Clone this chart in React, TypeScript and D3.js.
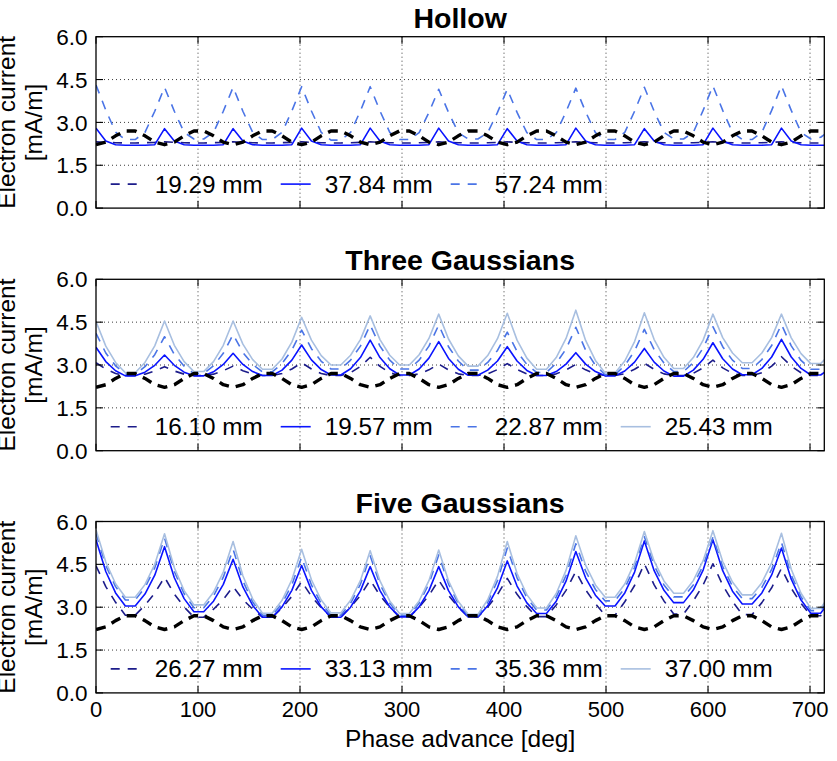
import React, { useEffect } from 'react';
import * as d3 from 'd3';

// ---------------- DATA ----------------
const PHASE: number[] = d3.range(76).map((i) => Math.round(i * 96) / 10); // deg, sample grid
const X_TICKS = [0, 100, 200, 300, 400, 500, 600, 700];
const Y_TICKS = [0, 1.5, 3.0, 4.5, 6.0];
const TITLES = ['Hollow', 'Three Gaussians', 'Five Gaussians'];

// reference (black dashed) curve, same in every panel
const REFERENCE = [
  2.22,2.31,2.53,2.70,2.70,2.53,2.31, 2.22,2.31,2.53,2.70,2.70,2.53,2.31,
  2.22,2.31,2.53,2.70,2.70,2.53,2.31, 2.22,2.31,2.53,2.70,2.70,2.53,2.31,
  2.22,2.31,2.53,2.70,2.70,2.53,2.31, 2.22,2.31,2.53,2.70,2.70,2.53,2.31,
  2.22,2.31,2.53,2.70,2.70,2.53,2.31, 2.22,2.31,2.53,2.70,2.70,2.53,2.31,
  2.22,2.31,2.53,2.70,2.70,2.53,2.31, 2.22,2.31,2.53,2.70,2.70,2.53,2.31,
  2.22,2.31,2.53,2.70,2.70,2.53,
];

// Hollow
const HOLLOW_LABELS = ['19.29 mm', '37.84 mm', '57.24 mm'];
const HOLLOW_1929 = [
  2.32,2.30,2.29,2.28,2.28,2.29,2.30, 2.32,2.30,2.29,2.28,2.28,2.29,2.30,
  2.32,2.30,2.29,2.28,2.28,2.29,2.30, 2.32,2.30,2.29,2.28,2.28,2.29,2.30,
  2.32,2.30,2.29,2.28,2.28,2.29,2.30, 2.32,2.30,2.29,2.28,2.28,2.29,2.30,
  2.32,2.30,2.29,2.28,2.28,2.29,2.30, 2.32,2.30,2.29,2.28,2.28,2.29,2.30,
  2.32,2.30,2.29,2.28,2.28,2.29,2.30, 2.32,2.30,2.29,2.28,2.28,2.29,2.30,
  2.32,2.30,2.29,2.28,2.28,2.29,
];
const HOLLOW_3784 = [
  2.80,2.35,2.22,2.20,2.20,2.20,2.22, 2.78,2.35,2.22,2.20,2.20,2.20,2.22,
  2.78,2.35,2.22,2.20,2.20,2.20,2.22, 2.80,2.35,2.22,2.20,2.20,2.20,2.22,
  2.80,2.35,2.22,2.20,2.20,2.20,2.22, 2.80,2.35,2.22,2.20,2.20,2.20,2.22,
  2.78,2.35,2.22,2.20,2.20,2.20,2.22, 2.80,2.35,2.22,2.20,2.20,2.20,2.22,
  2.78,2.35,2.22,2.20,2.20,2.20,2.22, 2.80,2.35,2.22,2.20,2.20,2.20,2.22,
  2.80,2.35,2.22,2.20,2.20,2.20,
];
const HOLLOW_5724 = [
  4.31,3.43,2.66,2.40,2.40,2.65,3.39, 4.23,3.39,2.65,2.42,2.42,2.65,3.39,
  4.23,3.39,2.65,2.40,2.40,2.65,3.40, 4.25,3.40,2.65,2.38,2.38,2.65,3.40,
  4.25,3.40,2.65,2.40,2.40,2.64,3.35, 4.16,3.35,2.64,2.42,2.42,2.64,3.35,
  4.16,3.35,2.64,2.40,2.40,2.64,3.37, 4.20,3.37,2.64,2.40,2.40,2.65,3.39,
  4.23,3.39,2.65,2.42,2.42,2.65,3.42, 4.28,3.42,2.65,2.40,2.40,2.65,3.42,
  4.28,3.42,2.65,2.42,2.48,2.72,
];

// Three Gaussians
const THREE_LABELS = ['16.10 mm', '19.57 mm', '22.87 mm', '25.43 mm'];
const THREE_1610 = [
  3.08,2.86,2.70,2.63,2.63,2.68,2.79, 2.94,2.79,2.68,2.63,2.63,2.68,2.80,
  2.96,2.80,2.68,2.63,2.63,2.70,2.86, 3.08,2.86,2.70,2.63,2.63,2.73,2.95,
  3.27,2.95,2.73,2.63,2.63,2.69,2.83, 3.03,2.83,2.69,2.63,2.63,2.69,2.84,
  3.05,2.84,2.69,2.63,2.63,2.69,2.83, 3.02,2.83,2.69,2.63,2.63,2.69,2.85,
  3.06,2.85,2.69,2.63,2.63,2.71,2.90, 3.17,2.90,2.71,2.63,2.63,2.73,2.96,
  3.29,2.96,2.73,2.63,2.63,2.73,
];
const THREE_1957 = [
  3.62,3.12,2.80,2.62,2.62,2.75,2.99, 3.35,2.99,2.75,2.62,2.62,2.76,3.02,
  3.41,3.02,2.77,2.63,2.63,2.82,3.17, 3.70,3.18,2.84,2.65,2.65,2.87,3.26,
  3.87,3.26,2.87,2.65,2.65,2.86,3.24, 3.82,3.23,2.85,2.64,2.64,2.82,3.14,
  3.64,3.14,2.81,2.63,2.63,2.77,3.03, 3.43,3.03,2.77,2.62,2.62,2.79,3.10,
  3.58,3.10,2.79,2.61,2.61,2.82,3.20, 3.78,3.22,2.86,2.66,2.66,2.88,3.28,
  3.90,3.28,2.88,2.65,2.65,2.88,
];
const THREE_2287 = [
  4.11,3.42,2.97,2.68,2.68,2.94,3.36, 3.99,3.37,2.96,2.70,2.70,2.97,3.41,
  4.07,3.44,3.02,2.76,2.76,3.05,3.52, 4.22,3.57,3.13,2.86,2.86,3.17,3.66,
  4.40,3.66,3.17,2.86,2.86,3.17,3.66, 4.40,3.64,3.14,2.82,2.82,3.09,3.51,
  4.15,3.47,3.02,2.74,2.74,3.06,3.56, 4.32,3.52,2.99,2.66,2.66,2.98,3.49,
  4.25,3.54,3.07,2.77,2.77,3.08,3.59, 4.34,3.64,3.17,2.88,2.88,3.19,3.68,
  4.42,3.67,3.16,2.85,2.85,3.16,
];
const THREE_2543 = [
  4.52,3.66,3.09,2.73,2.73,3.09,3.67, 4.54,3.69,3.12,2.77,2.77,3.12,3.69,
  4.54,3.73,3.19,2.85,2.85,3.21,3.80, 4.67,3.87,3.33,3.00,3.00,3.34,3.89,
  4.72,3.89,3.34,3.00,3.00,3.36,3.93, 4.78,3.91,3.32,2.96,2.96,3.33,3.92,
  4.81,3.87,3.24,2.85,2.85,3.26,3.93, 4.92,3.86,3.16,2.72,2.72,3.14,3.82,
  4.83,3.89,3.27,2.88,2.88,3.26,3.87, 4.78,3.96,3.42,3.08,3.08,3.42,3.96,
  4.78,3.95,3.40,3.05,3.05,3.40,
];

// Five Gaussians
const FIVE_LABELS = ['26.27 mm', '33.13 mm', '35.36 mm', '37.00 mm'];
const FIVE_2627 = [
  4.45,3.72,3.17,2.72,2.72,3.07,3.49, 4.05,3.46,3.01,2.65,2.65,2.93,3.27,
  3.72,3.27,2.93,2.65,2.65,2.98,3.38, 3.90,3.38,2.98,2.66,2.66,3.00,3.41,
  3.95,3.41,3.00,2.66,2.66,3.00,3.41, 3.95,3.41,3.00,2.66,2.66,3.01,3.44,
  4.01,3.45,3.02,2.67,2.67,3.08,3.59, 4.25,3.61,3.12,2.72,2.72,3.19,3.76,
  4.52,3.78,3.22,2.76,2.76,3.22,3.78, 4.52,3.77,3.20,2.74,2.74,3.16,3.68,
  4.36,3.66,3.13,2.70,2.70,3.13,
];
const FIVE_3313 = [
  5.36,4.25,3.50,3.04,3.04,3.46,4.12, 5.12,4.03,3.30,2.84,2.84,3.21,3.80,
  4.68,3.71,3.06,2.65,2.65,3.01,3.59, 4.46,3.59,3.01,2.65,2.65,3.00,3.57,
  4.42,3.58,3.01,2.66,2.66,3.01,3.58, 4.42,3.58,3.01,2.66,2.66,3.05,3.68,
  4.62,3.74,3.15,2.78,2.78,3.21,3.91, 4.95,4.03,3.42,3.04,3.04,3.50,4.23,
  5.32,4.28,3.59,3.16,3.16,3.60,4.30, 5.36,4.28,3.56,3.11,3.11,3.50,4.13,
  5.07,3.98,3.25,2.79,2.79,3.25,
];
const FIVE_3536 = [
  5.58,4.46,3.72,3.25,3.25,3.68,4.38, 5.42,4.25,3.47,2.98,2.98,3.39,4.05,
  5.03,3.92,3.18,2.72,2.72,3.13,3.78, 4.75,3.78,3.13,2.72,2.72,3.14,3.80,
  4.80,3.80,3.14,2.72,2.72,3.14,3.82, 4.83,3.81,3.13,2.70,2.70,3.17,3.93,
  5.07,4.03,3.33,2.90,2.90,3.36,4.11, 5.22,4.26,3.62,3.22,3.22,3.67,4.39,
  5.47,4.46,3.78,3.36,3.36,3.78,4.45, 5.45,4.42,3.73,3.30,3.30,3.69,4.32,
  5.27,4.12,3.36,2.88,2.88,3.36,
];
const FIVE_3700 = [
  5.71,4.58,3.82,3.35,3.35,3.79,4.50, 5.57,4.38,3.58,3.08,3.08,3.52,4.23,
  5.30,4.10,3.29,2.79,2.79,3.24,3.96, 5.03,3.96,3.25,2.80,2.80,3.24,3.93,
  4.98,3.92,3.22,2.78,2.78,3.22,3.93, 5.00,3.92,3.20,2.75,2.75,3.26,4.08,
  5.30,4.18,3.44,2.97,2.97,3.48,4.29, 5.50,4.47,3.78,3.35,3.35,3.81,4.55,
  5.65,4.61,3.92,3.49,3.49,3.93,4.63, 5.68,4.60,3.88,3.43,3.43,3.86,4.55,
  5.59,4.33,3.49,2.96,2.96,3.47,
];

// ---------------- STYLE / LAYOUT ----------------
const W = 837;
const H = 761;
const X0 = 96;
const X1 = 824.3;
const PANEL_TOPS = [36.7, 279.3, 521.5];
const PANEL_H = 171.4;
const FONT = '"Liberation Sans", Arial, Helvetica, sans-serif';

type Style = { color: string; dash?: string; width: number };
const NAVY: Style = { color: '#1c1c8a', dash: '9,8', width: 1.6 };
const BLUE: Style = { color: '#0a14ff', width: 1.6 };
const ROYAL: Style = { color: '#4a74e6', dash: '9,8', width: 1.6 };
const LIGHT: Style = { color: '#a8bfe0', width: 1.6 };
const REF_STYLE: Style = { color: '#000000', dash: '10,7', width: 3.4 };

type Series = { label: string; values: number[]; style: Style };
const PANELS: { title: string; series: Series[] }[] = [
  {
    title: TITLES[0],
    series: [
      { label: HOLLOW_LABELS[0], values: HOLLOW_1929, style: NAVY },
      { label: HOLLOW_LABELS[1], values: HOLLOW_3784, style: BLUE },
      { label: HOLLOW_LABELS[2], values: HOLLOW_5724, style: ROYAL },
    ],
  },
  {
    title: TITLES[1],
    series: [
      { label: THREE_LABELS[0], values: THREE_1610, style: NAVY },
      { label: THREE_LABELS[1], values: THREE_1957, style: BLUE },
      { label: THREE_LABELS[2], values: THREE_2287, style: ROYAL },
      { label: THREE_LABELS[3], values: THREE_2543, style: LIGHT },
    ],
  },
  {
    title: TITLES[2],
    series: [
      { label: FIVE_LABELS[0], values: FIVE_2627, style: NAVY },
      { label: FIVE_LABELS[1], values: FIVE_3313, style: BLUE },
      { label: FIVE_LABELS[2], values: FIVE_3536, style: ROYAL },
      { label: FIVE_LABELS[3], values: FIVE_3700, style: LIGHT },
    ],
  },
];

const x = d3.scaleLinear().domain([0, 714]).range([X0, X1]);

function Panel({ index }: { index: number }) {
  const panel = PANELS[index];
  const top = PANEL_TOPS[index];
  const bottom = top + PANEL_H;
  const y = d3.scaleLinear().domain([0, 6]).range([bottom, top]);
  const line = d3
    .line<number>()
    .x((_, i) => x(PHASE[i]))
    .y((d) => y(d));
  const clipId = `clip-${index}`;
  const tick = 7;
  const isLast = index === PANELS.length - 1;
  const legendBase = bottom - 15.5;

  return (
    <g>
      <defs>
        <clipPath id={clipId}>
          <rect x={X0} y={top} width={X1 - X0} height={PANEL_H} />
        </clipPath>
      </defs>
      {/* grid */}
      <g stroke="#000" strokeWidth={0.9} strokeDasharray="1,3" opacity={0.85}>
        {X_TICKS.filter((t) => t > 0).map((t) => (
          <line key={'gx' + t} x1={x(t)} x2={x(t)} y1={top} y2={bottom} />
        ))}
        {Y_TICKS.filter((t) => t > 0 && t < 6).map((t) => (
          <line key={'gy' + t} x1={X0} x2={X1} y1={y(t)} y2={y(t)} />
        ))}
      </g>
      {/* series */}
      <g clipPath={`url(#${clipId})`} fill="none" strokeLinejoin="round">
        {panel.series.map((s) => (
          <path
            key={s.label}
            d={line(s.values) || ''}
            stroke={s.style.color}
            strokeWidth={s.style.width}
            strokeDasharray={s.style.dash}
          />
        ))}
        <path
          d={line(REFERENCE) || ''}
          stroke={REF_STYLE.color}
          strokeWidth={REF_STYLE.width}
          strokeDasharray={REF_STYLE.dash}
        />
      </g>
      {/* ticks (inward, all sides) */}
      <g stroke="#000" strokeWidth={1.1}>
        {X_TICKS.map((t) => (
          <g key={'tx' + t}>
            <line x1={x(t)} x2={x(t)} y1={bottom} y2={bottom - tick} />
            <line x1={x(t)} x2={x(t)} y1={top} y2={top + tick} />
          </g>
        ))}
        {Y_TICKS.map((t) => (
          <g key={'ty' + t}>
            <line x1={X0} x2={X0 + tick} y1={y(t)} y2={y(t)} />
            <line x1={X1} x2={X1 - tick} y1={y(t)} y2={y(t)} />
          </g>
        ))}
      </g>
      {/* frame */}
      <rect x={X0} y={top} width={X1 - X0} height={PANEL_H} fill="none" stroke="#000" strokeWidth={1.3} />
      {/* y tick labels */}
      <g fontFamily={FONT} fontSize={22.5} textAnchor="end" fill="#000">
        {Y_TICKS.map((t) => (
          <text key={'yl' + t} x={X0 - 8.5} y={y(t)} dy="0.36em">
            {d3.format('.1f')(t)}
          </text>
        ))}
      </g>
      {/* x tick labels */}
      {isLast && (
        <g fontFamily={FONT} fontSize={22} textAnchor="middle" fill="#000">
          {X_TICKS.map((t) => (
            <text key={'xl' + t} x={x(t)} y={bottom + 24.5}>
              {t}
            </text>
          ))}
        </g>
      )}
      {/* legend */}
      <g fontFamily={FONT} fontSize={24.3} fill="#000">
        {panel.series.map((s, i) => {
          const hx = 110.7 + 170 * i;
          return (
            <g key={'lg' + s.label}>
              <line
                x1={hx}
                x2={hx + 30}
                y1={legendBase - 8.5}
                y2={legendBase - 8.5}
                stroke={s.style.color}
                strokeWidth={s.style.width}
                strokeDasharray={s.style.dash}
              />
              <text x={hx + 44} y={legendBase}>
                {s.label}
              </text>
            </g>
          );
        })}
      </g>
      {/* title */}
      <text
        x={(X0 + X1) / 2}
        y={top - 9}
        textAnchor="middle"
        fontFamily={FONT}
        fontWeight="bold"
        fontSize={28.5}
        fill="#000"
      >
        {panel.title}
      </text>
      {/* y label */}
      <g fontFamily={FONT} fontSize={24.5} textAnchor="middle" fill="#000">
        <text transform={`translate(15,${(top + bottom) / 2}) rotate(-90)`}>Electron current</text>
        <text transform={`translate(41.5,${(top + bottom) / 2}) rotate(-90)`}>[mA/m]</text>
      </g>
    </g>
  );
}

export default function App() {
  useEffect(() => {
    document.body.style.margin = '0';
  }, []);
  return (
    <svg
      width={W}
      height={H}
      viewBox={`0 0 ${W} ${H}`}
      style={{ position: 'absolute', left: 0, top: 0, background: '#fff' }}
    >
      <rect x={0} y={0} width={W} height={H} fill="#fff" />
      {PANELS.map((_, i) => (
        <Panel key={i} index={i} />
      ))}
      <text
        x={(X0 + X1) / 2}
        y={746.7}
        textAnchor="middle"
        fontFamily={FONT}
        fontSize={24.5}
        fill="#000"
      >
        Phase advance [deg]
      </text>
    </svg>
  );
}
